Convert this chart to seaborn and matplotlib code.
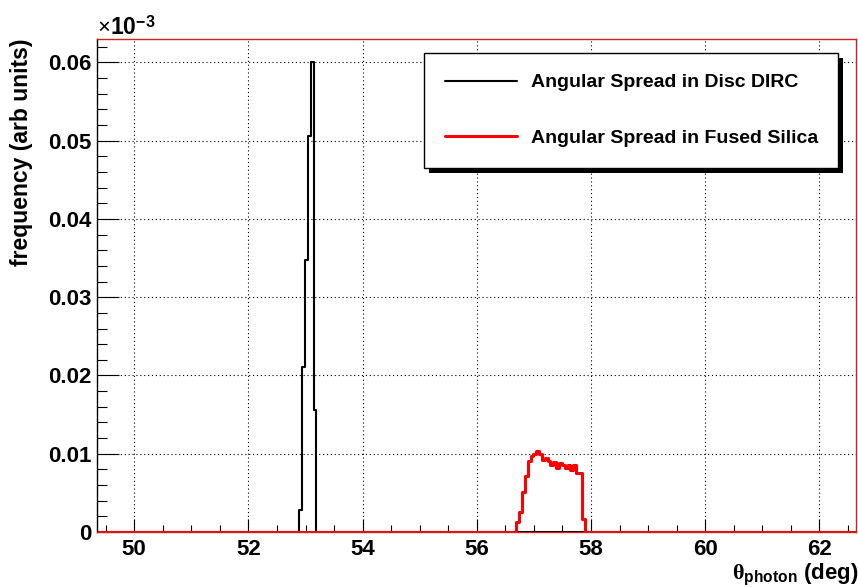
import numpy as np
import pandas as pd
import matplotlib
matplotlib.use('Agg')
from matplotlib import pyplot as plt
from matplotlib.patches import Rectangle
from matplotlib.ticker import MultipleLocator, FuncFormatter
import seaborn as sns

# histogram binning (deg)
x_lo, x_hi, bin_w = 49.34, 62.64, 0.05
y_max = 0.063

# Disc DIRC: low edge of first filled bin + bin contents
disc_start = 52.89
disc_counts = [0.0028, 0.0211, 0.0348, 0.0506, 0.0601, 0.0156]

# Fused silica
silica_start = 56.69
silica_counts = [0.0013, 0.0026, 0.0051, 0.0071, 0.0091, 0.0097, 0.0100, 0.0104,
                 0.0100, 0.0092, 0.0095, 0.0091, 0.0086, 0.0089, 0.0082, 0.0088,
                 0.0086, 0.0082, 0.0086, 0.0079, 0.0086, 0.0076, 0.0076, 0.0017]

labels = ["Angular Spread in Disc DIRC", "Angular Spread in Fused Silica"]
colors = ["black", "red"]
widths = [1.5, 2.2]


def histFrame(start, counts):
    centres = start + bin_w * (np.arange(len(counts)) + 0.5)
    return pd.DataFrame({"theta": centres, "freq": counts})


sns.set_style("white")
plt.rcParams['font.family'] = ['Liberation Sans', 'DejaVu Sans']
plt.rcParams['font.weight'] = 'bold'
plt.rcParams['mathtext.fontset'] = 'custom'
plt.rcParams['mathtext.rm'] = 'Liberation Serif'
plt.rcParams['mathtext.it'] = 'Liberation Serif:italic'
plt.rcParams['mathtext.bf'] = 'Liberation Sans:bold'
for key in ['text.color', 'axes.labelcolor', 'xtick.color', 'ytick.color']:
    plt.rcParams[key] = 'black'

fig = plt.figure(figsize=(8.58, 5.87), dpi=100)
W, H = 858, 587
ax = fig.add_axes([96.5 / W, 55 / H, 759.5 / W, 493 / H])

nBins = int(round((x_hi - x_lo) / bin_w))
edges = (x_lo + bin_w * np.arange(nBins + 1)).tolist()

for start, counts, col, lw in zip([disc_start, silica_start],
                                  [disc_counts, silica_counts], colors, widths):
    sns.histplot(data=histFrame(start, counts), x="theta", weights="freq",
                 bins=edges, element="step", fill=False, color=col,
                 linewidth=lw, ax=ax)

ax.set_xlim(x_lo, x_hi)
ax.set_ylim(0, y_max)

# grid + ticks
ax.set_axisbelow(True)
ax.grid(True, which='major', color='black', linestyle=(0, (1, 2.5)), linewidth=0.8)
ax.xaxis.set_major_locator(MultipleLocator(2))
ax.xaxis.set_minor_locator(MultipleLocator(0.5))
ax.yaxis.set_major_locator(MultipleLocator(0.01))
ax.yaxis.set_minor_locator(MultipleLocator(0.002))
ax.yaxis.set_major_formatter(FuncFormatter(lambda v, p: "0" if abs(v) < 1e-9 else f"{v:.2f}"))
ax.xaxis.set_major_formatter(FuncFormatter(lambda v, p: f"{v:.0f}"))
ax.tick_params(which='both', bottom=True, left=True, top=False, right=False,
               colors='black')
ax.tick_params(axis='x', which='major', direction='in', length=9.4, width=0.8,
               labelsize=16, pad=5)
ax.tick_params(axis='x', which='minor', direction='in', length=4.7, width=0.8)
ax.tick_params(axis='y', which='major', direction='in', length=15.8, width=0.8,
               labelsize=16, pad=3.5)
ax.tick_params(axis='y', which='minor', direction='in', length=7.2, width=0.8)
for lab in ax.get_xticklabels() + ax.get_yticklabels():
    lab.set_fontweight('bold')

for side in ['top', 'right', 'bottom']:
    ax.spines[side].set_color('#cc2222')
    ax.spines[side].set_linewidth(1.0)
ax.spines['left'].set_color('black')
ax.spines['left'].set_linewidth(1.0)

# axis labels
ax.set_ylabel("frequency (arb units)", fontsize=16.5, fontweight='bold',
              loc='top', va='center')
ax.yaxis.set_label_coords(-0.0985, 1.0)
ax.set_xlabel(r"$\mathrm{θ}_{\mathbf{photon}}$ (deg)", fontsize=16,
              fontweight='bold', loc='right', va='baseline')
ax.xaxis.set_label_coords(1.003, -0.095)

fig.text(97 / W, 1 - 35 / H, r"$\times\mathbf{10}^{\mathbf{-3}}$", fontsize=16.5,
         ha='left', va='baseline')

# legend with solid ROOT-style shadow
leg = ax.legend(handles=ax.lines[:2], labels=labels, loc='upper left',
                bbox_to_anchor=(0.431, 0.972, 0.545, 0), mode='expand',
                borderaxespad=0, prop={'weight': 'bold', 'size': 14},
                fancybox=False, framealpha=1, edgecolor='black',
                borderpad=1.08, labelspacing=1.95, handlelength=3.7,
                handletextpad=0.75)
leg.get_frame().set_linewidth(1.0)

fig.canvas.draw()
bb = leg.get_window_extent().transformed(ax.transAxes.inverted())
dx, dy = 5 / 759.5, 5 / 493
ax.add_patch(Rectangle((bb.x0 + dx, bb.y0 - dy), bb.width, bb.height,
                       transform=ax.transAxes, facecolor='black',
                       edgecolor='none', zorder=4.9, clip_on=False))

fig.savefig("out.png", dpi=100)
plt.close(fig)
